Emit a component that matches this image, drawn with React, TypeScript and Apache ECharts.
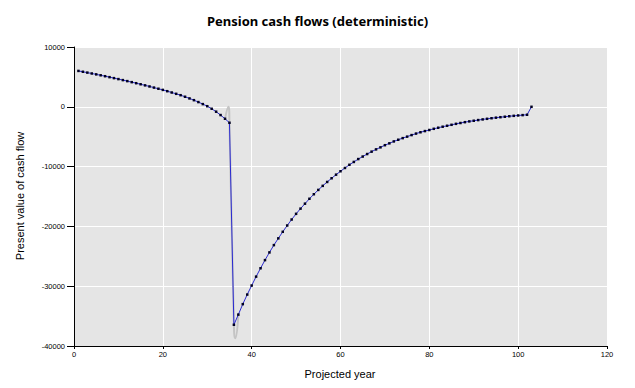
import React, { useEffect, useRef } from "react";
import * as echarts from "echarts";

const titleText = "Pension cash flows (deterministic)";
const xAxisName = "Projected year";
const yAxisName = "Present value of cash flow";

const firstYear = 1;
// present value of cash flow, years 1..103
const cashFlowValues = [
  6000, 5860, 5717, 5571, 5422, 5270, 5115, 4957, 4796, 4632,
  4465, 4295, 4122, 3946, 3767, 3585, 3400, 3212, 3021, 2827,
  2610, 2390, 2170, 1940, 1680, 1400, 1110, 790, 450, 100,
  -330, -820, -1380, -2000, -2670,
  -36450, -34750, -33000, -31400, -29890, -28400, -27000, -25640, -24350, -23130,
  -22000, -20900, -19850, -18850, -17900, -17030, -16200, -15380, -14620, -13900,
  -13220, -12570, -11950, -11350, -10780, -10230, -9700, -9220, -8740, -8320,
  -7900, -7500, -7120, -6780, -6420, -6110, -5790, -5510, -5240, -4990,
  -4730, -4480, -4260, -4060, -3880, -3680, -3500, -3330, -3170, -3010,
  -2850, -2710, -2570, -2440, -2330, -2220, -2110, -2010, -1910, -1820,
  -1740, -1660, -1580, -1510, -1450, -1390, -1330, 0,
];

// grey smoothed overshoot around the retirement jump
const splineYears = [34, 34.75, 35, 36, 36.3, 37];
const splineValues = [-2000, 0, -2670, -36450, -38700, -34750];

const xTicks = { min: 0, max: 120, interval: 20 };
const yTicks = { min: -40000, max: 10000, interval: 10000 };

export default function App() {
  const ref = useRef<HTMLDivElement>(null);
  useEffect(() => {
    if (!ref.current) return;
    const chart = echarts.init(ref.current, null, { renderer: "svg" });
    const mainData = cashFlowValues.map((v, i) => [firstYear + i, v]);
    const splineData = splineYears.map((x, i) => [x, splineValues[i]]);
    const labelFont = "Liberation Sans";
    chart.setOption({
      animation: false,
      backgroundColor: "#ffffff",
      title: {
        text: titleText,
        left: "center",
        top: 9,
        textStyle: {
          fontFamily: "Noto Sans",
          fontWeight: "bold",
          fontSize: 13,
          color: "#000",
        },
      },
      grid: {
        left: 74,
        top: 47,
        right: 28,
        bottom: 42,
        show: true,
        backgroundColor: "#e5e5e5",
        borderWidth: 0,
      },
      xAxis: {
        type: "value",
        min: xTicks.min,
        max: xTicks.max,
        interval: xTicks.interval,
        axisLine: { show: true, onZero: false, lineStyle: { color: "#000", width: 1 } },
        axisTick: { show: true, length: 3, lineStyle: { color: "#000" } },
        axisLabel: {
          color: "#000",
          fontSize: 7.5,
          fontFamily: labelFont,
          margin: 4,
          formatter: (v: number) => String(v),
        },
        splitLine: { show: true, lineStyle: { color: "#ffffff", width: 1 } },
      },
      yAxis: {
        type: "value",
        min: yTicks.min,
        max: yTicks.max,
        interval: yTicks.interval,
        axisLine: { show: true, onZero: false, lineStyle: { color: "#000", width: 1 } },
        axisTick: { show: true, length: 7, lineStyle: { color: "#000" } },
        axisLabel: {
          color: "#000",
          fontSize: 7.5,
          fontFamily: labelFont,
          margin: 9,
          formatter: (v: number) => String(v),
        },
        splitLine: { show: true, lineStyle: { color: "#ffffff", width: 1 } },
      },
      graphic: [
        {
          type: "text",
          x: 20,
          y: 196,
          rotation: Math.PI / 2,
          style: {
            text: yAxisName,
            fill: "#000",
            fontSize: 11,
            fontFamily: labelFont,
            textAlign: "center",
            textVerticalAlign: "middle",
          },
        },
        {
          type: "text",
          x: 340,
          y: 374,
          style: {
            text: xAxisName,
            fill: "#000",
            fontSize: 11,
            fontFamily: labelFont,
            textAlign: "center",
            textVerticalAlign: "middle",
          },
        },
      ],
      series: [
        {
          type: "line",
          data: splineData,
          smooth: 0.6,
          symbol: "none",
          z: 1,
          lineStyle: { color: "#c4c4c4", width: 2 },
        },
        {
          type: "line",
          data: mainData,
          z: 2,
          symbol: "rect",
          symbolSize: 2.5,
          itemStyle: { color: "#000020" },
          lineStyle: { color: "#2a2ad0", width: 1 },
        },
      ],
    });
    return () => chart.dispose();
  }, []);
  return (
    <div
      ref={ref}
      style={{ position: "fixed", left: 0, top: 0, width: 635, height: 388 }}
    />
  );
}
